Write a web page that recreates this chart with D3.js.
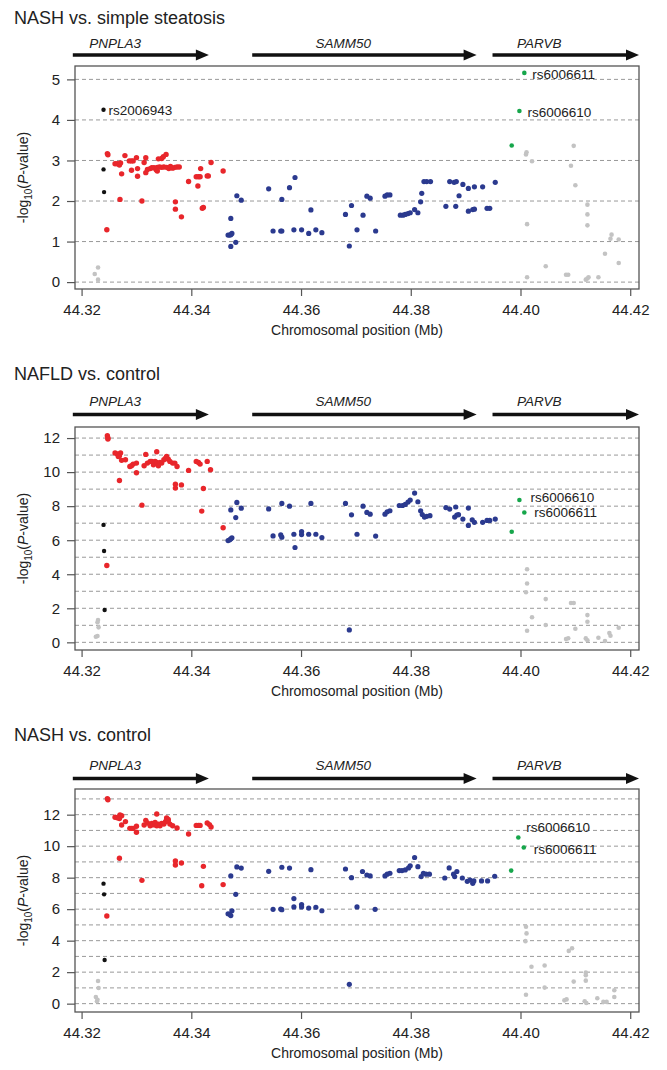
<!DOCTYPE html>
<html>
<head>
<meta charset="utf-8">
<script src="https://cdn.jsdelivr.net/npm/d3@7"></script>
<style>
  body { margin: 0; background: #fff; }
  svg { display: block; font-family: "Liberation Sans", Arial, sans-serif; }
  .grid line { stroke: #999; stroke-dasharray: 4 3; stroke-width: 1; }
  .frame { fill: none; stroke: #555; stroke-width: 1.3; }
  .tick-label { font-size: 15px; fill: #222; }
</style>
</head>
<body>
<svg width="667" height="1070"></svg>
<script>
// --- data -------------------------------------------------------------
const titles = ['NASH vs. simple steatosis', 'NAFLD vs. control', 'NASH vs. control'];
const xTicks = [44.32, 44.34, 44.36, 44.38, 44.40, 44.42];
const genes = ['PNPLA3', 'SAMM50', 'PARVB'];
const geneStart = [44.3184, 44.3511, 44.3949];
const geneEnd = [44.3432, 44.3920, 44.4216];
const geneLabelPos = [44.3261, 44.3677, 44.4034];

// panel 1 : NASH vs. simple steatosis
const p1Gray = [[44.3224,0.20],[44.3230,0.36],[44.3230,0.06],[44.4010,3.15],[44.4011,3.20],[44.4021,2.98],[44.4012,1.43],[44.4012,0.12],[44.4046,0.39],[44.4083,0.18],[44.4087,0.18],[44.4092,2.87],[44.4097,3.36],[44.4100,2.39],[44.4122,1.91],[44.4122,1.67],[44.4122,1.40],[44.4119,0.06],[44.4122,0.09],[44.4124,0.12],[44.4142,0.12],[44.4154,0.70],[44.4164,1.07],[44.4166,1.17],[44.4179,1.05],[44.4179,0.47]];
const p1Black = [[44.3240,4.25],[44.3240,2.78],[44.3241,2.22]];
const p1Red = [[44.3247,3.17],[44.3248,3.14],[44.3246,1.29],[44.3261,2.92],[44.3265,2.92],[44.3269,2.89],[44.3271,2.94],[44.3270,2.04],[44.3273,2.67],[44.3279,3.12],[44.3287,2.99],[44.3291,2.99],[44.3294,2.99],[44.3291,2.76],[44.3300,3.07],[44.3302,2.80],[44.3302,2.61],[44.3310,2.00],[44.3314,2.95],[44.3317,3.07],[44.3317,2.70],[44.3320,2.78],
  [44.3325,2.80],[44.3328,2.82],[44.3332,2.82],[44.3336,2.77],[44.3338,2.83],[44.3342,2.84],[44.3346,2.83],[44.3350,2.84],[44.3355,2.83],[44.3359,2.80],[44.3362,2.85],[44.3366,2.81],[44.3370,2.83],[44.3374,2.84],[44.3378,2.84],
  [44.3340,3.04],[44.3346,3.05],[44.3349,3.09],[44.3354,3.15],[44.3338,2.74],[44.3371,1.98],[44.3371,1.80],[44.3382,1.61],[44.3395,2.48],[44.3409,2.60],[44.3413,2.60],[44.3416,2.60],[44.3412,2.37],[44.3417,2.80],[44.3420,1.82],[44.3422,1.84],[44.3429,2.62],[44.3431,2.62],[44.3436,2.95],[44.3458,2.74]];
const p1Blue = [[44.3467,1.16],[44.3470,1.16],[44.3472,1.17],[44.3474,1.20],[44.3472,1.57],[44.3472,0.88],[44.3481,0.98],[44.3483,2.13],[44.3491,2.02],[44.3541,2.30],[44.3549,1.26],[44.3563,1.26],[44.3565,1.26],[44.3565,2.04],[44.3579,2.33],[44.3587,1.29],[44.3589,2.58],[44.3601,1.29],[44.3614,1.20],[44.3618,1.78],[44.3627,1.29],[44.3638,1.22],[44.3681,1.67],[44.3688,0.89],[44.3692,1.89],[44.3702,1.29],
  [44.3713,1.65],[44.3720,2.12],[44.3726,2.07],[44.3736,1.26],[44.3753,2.12],[44.3757,2.15],[44.3762,2.15],[44.3781,1.65],[44.3786,1.65],[44.3790,1.67],[44.3795,1.69],[44.3799,1.71],[44.3807,1.79],[44.3813,1.71],[44.3818,1.98],[44.3820,2.19],[44.3824,2.48],[44.3829,2.48],[44.3836,2.48],[44.3864,1.87],[44.3871,2.48],[44.3879,2.46],[44.3883,2.48],[44.3882,1.87],[44.3888,2.13],[44.3895,2.41],[44.3905,2.31],[44.3905,1.75],[44.3913,1.79],[44.3916,1.80],[44.3916,2.35],[44.3931,2.35],[44.3939,1.82],[44.3944,1.82],[44.3954,2.46]];
const p1Green = [[44.3984,3.37],[44.3998,4.22],[44.4007,5.16]];
const p1Labels = [['rs2006943',44.3240,4.25],['rs6006611',44.4007,5.16],['rs6006610',44.3998,4.22]];

// panel 2 : NAFLD vs. control
const p2Gray = [[44.3226,0.33],[44.3229,0.37],[44.3230,1.31],[44.3231,0.88],[44.3229,1.18],[44.4012,4.29],[44.4012,3.46],[44.4010,2.94],[44.4021,1.47],[44.4012,0.68],[44.4046,2.54],[44.4046,1.02],[44.4083,0.20],[44.4087,0.24],[44.4092,2.31],[44.4097,2.31],[44.4100,0.80],[44.4122,1.60],[44.4122,1.21],[44.4119,0.23],[44.4122,0.12],[44.4142,0.27],[44.4154,0.08],[44.4162,0.55],[44.4164,0.39],[44.4179,0.86]];
const p2Black = [[44.3240,6.90],[44.3241,5.37],[44.3242,1.90]];
const p2Red = [[44.3247,12.14],[44.3248,12.00],[44.3248,11.94],[44.3246,4.51],[44.3261,11.12],[44.3265,11.06],[44.3271,11.12],[44.3269,10.96],[44.3267,10.92],[44.3269,9.51],[44.3273,10.69],[44.3280,10.73],[44.3288,10.33],[44.3291,10.37],[44.3294,10.47],[44.3300,10.53],[44.3300,9.96],[44.3310,8.06],[44.3314,10.37],[44.3317,11.04],[44.3320,10.53],
  [44.3325,10.63],[44.3328,10.63],[44.3331,10.43],[44.3334,10.63],[44.3337,10.57],[44.3340,10.37],[44.3343,10.57],[44.3346,10.53],[44.3350,10.73],[44.3353,10.82],[44.3355,10.92],[44.3358,10.76],[44.3361,10.63],[44.3366,10.53],
  [44.3337,11.20],[44.3370,10.53],[44.3371,9.29],[44.3371,9.06],[44.3374,10.33],[44.3382,9.25],[44.3395,10.10],[44.3409,10.63],[44.3413,10.57],[44.3416,10.47],[44.3422,9.04],[44.3419,7.71],[44.3429,10.63],[44.3435,10.14],[44.3458,6.73]];
const p2Blue = [[44.3467,5.98],[44.3470,6.02],[44.3472,6.08],[44.3474,6.14],[44.3472,7.78],[44.3481,7.33],[44.3483,8.22],[44.3491,7.88],[44.3541,7.84],[44.3549,6.25],[44.3563,6.31],[44.3565,6.18],[44.3565,8.16],[44.3579,8.00],[44.3587,6.35],[44.3589,5.57],[44.3601,6.51],[44.3601,6.33],[44.3614,6.35],[44.3618,8.16],[44.3627,6.35],[44.3638,6.16],[44.3681,8.16],[44.3688,0.73],[44.3692,7.49],[44.3702,6.35],
  [44.3713,8.00],[44.3720,7.63],[44.3726,7.53],[44.3736,6.24],[44.3753,7.53],[44.3757,7.67],[44.3762,7.73],[44.3779,8.04],[44.3785,8.04],[44.3790,8.10],[44.3795,8.24],[44.3799,8.36],[44.3807,8.77],[44.3813,8.26],[44.3818,7.73],[44.3821,7.51],[44.3825,7.36],[44.3829,7.40],[44.3835,7.44],[44.3864,7.91],[44.3871,7.83],[44.3882,7.95],[44.3880,7.36],[44.3884,7.48],[44.3887,7.50],[44.3895,7.24],[44.3905,7.89],[44.3905,6.87],[44.3912,7.20],[44.3916,7.05],[44.3931,7.05],[44.3939,7.16],[44.3944,7.16],[44.3954,7.24]];
const p2Green = [[44.3984,6.50],[44.3998,8.36],[44.4007,7.63]];
const p2Labels = [['rs6006610',44.3998,8.36],['rs6006611',44.4007,7.63]];

// panel 3 : NASH vs. control
const p3Gray = [[44.3226,0.42],[44.3229,0.25],[44.3230,1.44],[44.3231,0.99],[44.3228,0.15],[44.4010,4.88],[44.4011,4.46],[44.4009,3.97],[44.4020,2.34],[44.4044,2.42],[44.4044,1.02],[44.4010,0.57],[44.4080,0.21],[44.4084,0.27],[44.4088,3.35],[44.4094,3.52],[44.4097,1.40],[44.4119,1.97],[44.4119,1.80],[44.4119,1.46],[44.4117,0.15],[44.4120,0.04],[44.4140,0.34],[44.4151,0.11],[44.4157,0.11],[44.4171,0.85],[44.4171,0.42]];
const p3Black = [[44.3240,7.62],[44.3241,6.94],[44.3242,2.77]];
const p3Red = [[44.3247,13.02],[44.3248,12.95],[44.3246,5.57],[44.3261,11.84],[44.3265,11.80],[44.3270,11.99],[44.3269,11.76],[44.3273,11.93],[44.3273,11.34],[44.3280,11.56],[44.3288,11.13],[44.3291,11.13],[44.3294,11.13],[44.3300,11.26],[44.3300,10.88],[44.3269,9.23],[44.3310,7.83],[44.3314,11.34],[44.3317,11.64],[44.3320,11.47],
  [44.3325,11.30],[44.3328,11.45],[44.3331,11.35],[44.3334,11.50],[44.3337,11.30],[44.3340,11.40],[44.3343,11.30],[44.3346,11.45],[44.3350,11.40],[44.3353,11.55],[44.3355,11.70],[44.3358,11.60],[44.3361,11.40],[44.3366,11.30],
  [44.3337,12.04],[44.3355,11.79],[44.3358,11.70],[44.3374,11.15],[44.3371,9.06],[44.3371,8.80],[44.3382,8.93],[44.3395,10.77],[44.3409,11.32],[44.3413,11.32],[44.3416,11.32],[44.3422,8.72],[44.3419,7.49],[44.3429,11.47],[44.3433,11.37],[44.3436,11.22],[44.3458,7.56]];
const p3Blue = [[44.3467,5.71],[44.3470,5.67],[44.3472,5.59],[44.3474,5.90],[44.3472,8.11],[44.3481,6.94],[44.3483,8.68],[44.3491,8.61],[44.3541,8.40],[44.3549,5.99],[44.3563,6.01],[44.3565,5.97],[44.3565,8.66],[44.3579,8.61],[44.3587,6.67],[44.3587,6.14],[44.3601,6.29],[44.3601,6.14],[44.3614,6.07],[44.3618,8.51],[44.3627,6.12],[44.3638,5.90],[44.3681,8.55],[44.3688,1.23],[44.3692,8.00],[44.3702,6.14],
  [44.3712,8.39],[44.3720,8.17],[44.3726,8.11],[44.3735,5.99],[44.3753,8.11],[44.3757,8.22],[44.3762,8.28],[44.3779,8.45],[44.3784,8.45],[44.3790,8.49],[44.3796,8.62],[44.3799,8.75],[44.3807,9.28],[44.3813,8.70],[44.3819,8.07],[44.3823,8.28],[44.3828,8.22],[44.3834,8.22],[44.3862,7.98],[44.3870,8.62],[44.3878,8.22],[44.3880,8.07],[44.3884,8.39],[44.3894,7.98],[44.3903,7.77],[44.3908,7.85],[44.3913,7.64],[44.3915,7.79],[44.3929,7.79],[44.3940,7.79],[44.3953,8.09]];
const p3Green = [[44.3983,8.45],[44.3996,10.55],[44.4006,9.92]];
const p3Labels = [['rs6006610',44.3996,10.55],['rs6006611',44.4006,9.92]];

// --- layout -----------------------------------------------------------
const left = 75, right = 639;
const panels = [
    { title: titles[0], titleY: 24, top: 66, bottom: 289, geneDy: [18, 11],
      yDomain: [-0.17, 5.33], yTicks: d3.range(0, 6), grid: d3.range(0, 6),
      gray: p1Gray, black: p1Black, red: p1Red, blue: p1Blue, green: p1Green, labels: p1Labels,
      labelOffset: [[5, 0], [8, 1], [8, 1]] },
    { title: titles[1], titleY: 380, top: 427, bottom: 650, geneDy: [21, 12.5],
      yDomain: [-0.45, 12.65], yTicks: d3.range(0, 13, 2), grid: d3.range(0, 13),
      gray: p2Gray, black: p2Black, red: p2Red, blue: p2Blue, green: p2Green, labels: p2Labels,
      labelOffset: [[11, -3], [10, 0]] },
    { title: titles[2], titleY: 741, top: 789, bottom: 1012, geneDy: [19, 10.5],
      yDomain: [-0.53, 13.63], yTicks: d3.range(0, 13, 2), grid: d3.range(0, 14),
      gray: p3Gray, black: p3Black, red: p3Red, blue: p3Blue, green: p3Green, labels: p3Labels,
      labelOffset: [[8, -10], [10, 2]] }
];

const colors = { gray: '#c3c3c3', black: '#111111', red: '#e8262b', blue: '#2b3a8f', green: '#16a64b' };
const radius = { gray: 2.3, black: 2.2, red: 2.7, blue: 2.6, green: 2.3 };

const svg = d3.select('svg');

const x = d3.scaleLinear().domain([44.3188, 44.4216]).range([left, right]);

panels.forEach(p => {
    const g = svg.append('g');
    const y = d3.scaleLinear().domain(p.yDomain).range([p.bottom, p.top]);

    // title
    g.append('text')
        .attr('x', 14).attr('y', p.titleY)
        .attr('font-size', 18).attr('fill', '#222')
        .text(p.title);

    // gene arrows
    genes.forEach((gene, i) => {
        const x0 = x(geneStart[i]), x1 = x(geneEnd[i]);
        const ay = p.top - p.geneDy[1];
        g.append('line')
            .attr('x1', x0).attr('x2', x1 - 10)
            .attr('y1', ay).attr('y2', ay)
            .attr('stroke', '#111').attr('stroke-width', 3.5);
        g.append('path')
            .attr('d', `M${x1 - 13},${ay - 5.5}L${x1},${ay}L${x1 - 13},${ay + 5.5}Z`)
            .attr('fill', '#111');
        g.append('text')
            .attr('x', x(geneLabelPos[i])).attr('y', p.top - p.geneDy[0])
            .attr('text-anchor', 'middle')
            .attr('font-size', 13.5).attr('font-style', 'italic').attr('fill', '#222')
            .text(gene);
    });

    // dashed gridlines
    g.append('g').attr('class', 'grid')
        .selectAll('line')
        .data(p.grid)
        .join('line')
        .attr('x1', left).attr('x2', right)
        .attr('y1', d => y(d)).attr('y2', d => y(d));

    // points
    ['gray', 'black', 'red', 'blue', 'green'].forEach(key => {
        g.append('g')
            .selectAll('circle')
            .data(p[key])
            .join('circle')
            .attr('cx', d => x(d[0]))
            .attr('cy', d => y(d[1]))
            .attr('r', radius[key])
            .attr('fill', colors[key]);
    });

    // SNP labels
    p.labels.forEach((l, i) => {
        const [dx, dy] = p.labelOffset[i];
        g.append('text')
            .attr('x', x(l[1]) + dx).attr('y', y(l[2]) + dy)
            .attr('dy', '0.35em')
            .attr('font-size', 13.5).attr('fill', '#222')
            .text(l[0]);
    });

    // frame
    g.append('rect').attr('class', 'frame')
        .attr('x', left).attr('y', p.top)
        .attr('width', right - left).attr('height', p.bottom - p.top);

    // axes
    const xAxis = g.append('g')
        .attr('transform', `translate(0,${p.bottom})`)
        .call(d3.axisBottom(x).tickValues(xTicks).tickFormat(d3.format('.2f')).tickSize(7).tickSizeOuter(0).tickPadding(8));
    const yAxis = g.append('g')
        .attr('transform', `translate(${left},0)`)
        .call(d3.axisLeft(y).tickValues(p.yTicks).tickFormat(d3.format('d')).tickSize(8).tickSizeOuter(0).tickPadding(7));
    [xAxis, yAxis].forEach(a => {
        a.select('.domain').remove();
        a.selectAll('line').attr('stroke', '#555').attr('stroke-width', 1.2);
        a.selectAll('text').attr('class', 'tick-label').attr('font-family', null).attr('font-size', null);
    });

    // x label
    g.append('text')
        .attr('x', (left + right) / 2).attr('y', p.bottom + 46)
        .attr('text-anchor', 'middle')
        .attr('font-size', 14).attr('fill', '#222')
        .text('Chromosomal position (Mb)');

    // y label
    const yl = g.append('text')
        .attr('transform', `translate(28,${(p.top + p.bottom) / 2}) rotate(-90)`)
        .attr('text-anchor', 'middle')
        .attr('font-size', 14).attr('fill', '#222');
    yl.append('tspan').text('-log');
    yl.append('tspan').attr('font-size', 10).attr('dy', 4).text('10');
    yl.append('tspan').attr('dy', -4).text('(');
    yl.append('tspan').attr('font-style', 'italic').text('P');
    yl.append('tspan').text('-value)');
});
</script>
</body>
</html>
